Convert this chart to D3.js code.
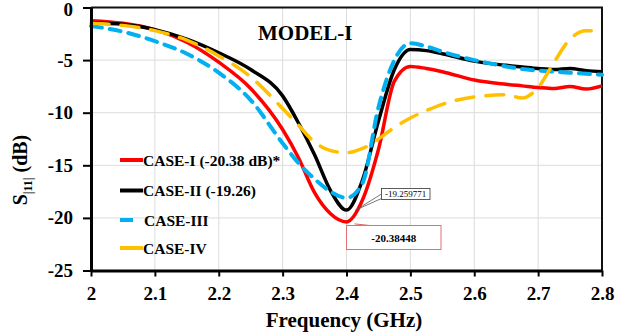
<!DOCTYPE html>
<html>
<head>
<meta charset="utf-8">
<script src="https://cdn.jsdelivr.net/npm/d3@7"></script>
<style>
  body { margin: 0; background: #fff; }
</style>
</head>
<body>
<svg id="chart" width="639" height="334"></svg>
<script>
// Data
const freq   = [2.0, 2.05, 2.1, 2.15, 2.2, 2.25, 2.3, 2.325, 2.35, 2.375, 2.4, 2.425, 2.45, 2.475, 2.5, 2.525, 2.55, 2.6, 2.65, 2.675, 2.7, 2.725, 2.75, 2.775, 2.8];
const caseI   = [-1.25, -1.5, -2.1, -3.3, -5.2, -7.7, -11.6, -14.3, -17.6, -19.6, -20.38, -18.3, -13.5, -7.0, -5.6, -5.8, -6.1, -6.9, -7.3, -7.45, -7.6, -7.7, -7.5, -7.75, -7.45];
const caseII  = [-1.45, -1.6, -2.1, -3.0, -4.3, -5.9, -8.4, -11.0, -14.0, -17.4, -19.26, -16.4, -10.8, -5.9, -4.0, -4.1, -4.4, -5.1, -5.5, -5.65, -5.8, -5.9, -5.8, -6.0, -6.1];
const caseIII = [-1.75, -2.3, -3.2, -4.4, -6.2, -8.8, -12.9, -14.8, -16.3, -17.5, -18.1, -16.7, -9.5, -5.0, -3.4, -3.7, -4.2, -5.0, -5.6, -5.85, -6.0, -6.1, -6.2, -6.3, -6.4];
const caseIV  = [-1.5, -1.7, -2.2, -3.1, -4.6, -6.6, -9.6, -11.2, -12.8, -13.6, -13.8, -13.4, -12.5, -11.4, -10.5, -9.8, -9.2, -8.5, -8.3, -8.6, -7.6, -5.2, -3.0, -2.2, -2.3];
const seriesNames = ["CASE-I (-20.38 dB)*", "CASE-II (-19.26)", "CASE-III", "CASE-IV"];
const xTicks = [2, 2.1, 2.2, 2.3, 2.4, 2.5, 2.6, 2.7, 2.8];
const yTicks = [0, -5, -10, -15, -20, -25];
const minLabels = ["-19.259771", "-20.38448"];

// Styles per series
const styles = [
  { color: "#ff0000", dash: null, width: 3.5 },
  { color: "#000000", dash: null, width: 3.5 },
  { color: "#00b0f0", dash: "11 8", width: 4 },
  { color: "#ffc000", dash: "18 12", width: 3.5 }
];
const series = [caseI, caseII, caseIII, caseIV].map((vals, i) => ({
  name: seriesNames[i],
  points: freq.map((f, j) => [f, vals[j]]),
  ...styles[i]
}));

const svg = d3.select("#chart");
const x = d3.scaleLinear().domain([2, 2.8]).range([91, 602]);
const y = d3.scaleLinear().domain([-25, 0]).range([270.5, 7.5]);
const serif = "'Liberation Serif', Tinos, 'Times New Roman', Times, 'DejaVu Serif', 'Noto Serif', FreeSerif, serif";

// Grid
svg.append("g")
  .selectAll("line")
  .data(xTicks.slice(1, -1))
  .join("line")
  .attr("x1", d => x(d)).attr("x2", d => x(d))
  .attr("y1", y(0)).attr("y2", y(-25))
  .attr("stroke", "#dcdcdc").attr("stroke-width", 1);
svg.append("g")
  .selectAll("line")
  .data(yTicks.slice(1, -1))
  .join("line")
  .attr("x1", x(2)).attr("x2", x(2.8))
  .attr("y1", d => y(d)).attr("y2", d => y(d))
  .attr("stroke", "#dcdcdc").attr("stroke-width", 1);

// Top and right frame
svg.append("path")
  .attr("d", `M${x(2)},${y(0)}H${x(2.8)}V${y(-25)}`)
  .attr("fill", "none").attr("stroke", "#111").attr("stroke-width", 2);

// Lines
const line = d3.line()
  .x(d => x(d[0]))
  .y(d => y(d[1]))
  .curve(d3.curveMonotoneX);

svg.append("g")
  .selectAll("path")
  .data(series)
  .join("path")
  .attr("d", d => line(d.points))
  .attr("fill", "none")
  .attr("stroke", d => d.color)
  .attr("stroke-width", d => d.width)
  .attr("stroke-dasharray", d => d.dash)
  .attr("stroke-linecap", d => d.dash ? "round" : "butt");

// Axes
const fmt = d => String(d);
const yAxis = svg.append("g")
  .attr("transform", `translate(${x(2)},0)`)
  .call(d3.axisLeft(y).tickValues(yTicks).tickFormat(fmt).tickSize(8).tickSizeOuter(0).tickPadding(10));
const xAxis = svg.append("g")
  .attr("transform", `translate(0,${y(-25)})`)
  .call(d3.axisBottom(x).tickValues(xTicks).tickFormat(fmt).tickSize(6).tickSizeOuter(0).tickPadding(10));

[yAxis, xAxis].forEach(g => {
  g.attr("font-family", serif);
  g.select(".domain").attr("stroke", "#000").attr("stroke-width", 3);
  g.selectAll(".tick line").attr("stroke", "#000").attr("stroke-width", 2);
  g.selectAll(".tick text")
    .attr("fill", "#000")
    .style("font-family", serif)
    .style("font-size", "19px")
    .style("font-weight", "bold");
});
yAxis.selectAll(".tick text").filter(d => d === 0).attr("dy", "0.4em");

// Axis titles
svg.append("text")
  .attr("x", 344)
  .attr("y", 327)
  .attr("text-anchor", "middle")
  .style("font-family", serif)
  .style("font-size", "21px")
  .style("font-weight", "bold")
  .text("Frequency (GHz)");

const yTitle = svg.append("text")
  .attr("transform", "translate(27,170) rotate(-90)")
  .attr("text-anchor", "middle")
  .style("font-family", serif)
  .style("font-size", "20px")
  .style("font-weight", "bold");
yTitle.append("tspan").text("S");
yTitle.append("tspan").attr("dy", 5).style("font-size", "12px").text("|11|");
yTitle.append("tspan").attr("dy", -5).text(" (dB)");

// Chart title
svg.append("text")
  .attr("x", 258).attr("y", 40)
  .style("font-family", serif)
  .style("font-size", "21px")
  .style("font-weight", "bold")
  .text("MODEL-I");

// Legend
const legendY = [160, 190.5, 220, 248];
const legend = svg.append("g")
  .selectAll("g")
  .data(series)
  .join("g")
  .attr("transform", (d, i) => `translate(120,${legendY[i]})`);
legend.append("line")
  .attr("x1", 0)
  .attr("x2", d => d.dash === "11 8" ? 13 : 23)
  .attr("y1", 0).attr("y2", 0)
  .attr("stroke", d => d.color)
  .attr("stroke-width", 4);
legend.append("text")
  .attr("x", (d, i) => i === 2 ? 24 : 23)
  .attr("y", 5.5)
  .style("font-family", serif)
  .style("font-size", "15.5px")
  .style("font-weight", "bold")
  .text(d => d.name);

// Minimum annotations
const bx = x(2.4), byBlack = y(caseII[10]), byRed = y(caseI[10]);
const ann = svg.append("g");
ann.append("path")
  .attr("d", `M381.5,194L${bx + 9},${byBlack}L381.5,198.5`)
  .attr("fill", "none").attr("stroke", "#555").attr("stroke-width", 0.8);
ann.append("rect")
  .attr("x", 381.5).attr("y", 188.5).attr("width", 48.5).attr("height", 11)
  .attr("fill", "#fff").attr("stroke", "#333").attr("stroke-width", 0.8);
ann.append("text")
  .attr("x", 405.7).attr("y", 197.3)
  .attr("text-anchor", "middle")
  .style("font-family", serif)
  .style("font-size", "9px")
  .text(minLabels[0]);

ann.append("line")
  .attr("x1", bx + 8).attr("y1", byRed + 2)
  .attr("x2", 370).attr("y2", 225.5)
  .attr("stroke", "#e06060").attr("stroke-width", 1);
ann.append("rect")
  .attr("x", 346.5).attr("y", 225.5).attr("width", 94.5).attr("height", 24)
  .attr("fill", "#fff").attr("stroke", "#e07070").attr("stroke-width", 1);
ann.append("text")
  .attr("x", 393.7).attr("y", 241.5)
  .attr("text-anchor", "middle")
  .style("font-family", serif)
  .style("font-size", "11px")
  .style("font-weight", "bold")
  .text(minLabels[1]);
</script>
</body>
</html>
